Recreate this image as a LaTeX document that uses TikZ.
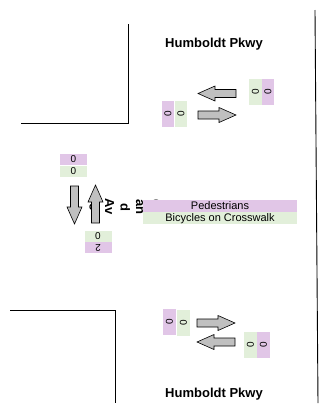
\documentclass[tikz,border=0pt]{standalone}
\usepackage{fontspec}
\setmainfont{Liberation Sans}
\usepackage{xcolor}
\definecolor{lilas}{RGB}{225,198,231}
\definecolor{verdeclaro}{RGB}{226,239,218}
\definecolor{cinzaseta}{RGB}{192,192,192}
\usepackage{tikz}
\usetikzlibrary{positioning}

\begin{document}
\begin{tikzpicture}[x=1pt, y=-1pt,
    curb/.style={draw=black, line width=0.9pt},
    pcell/.style={rectangle, fill=lilas, inner sep=0pt, font=\fontsize{10}{10}\selectfont},
    gcell/.style={rectangle, fill=verdeclaro, inner sep=0pt, font=\fontsize{10}{10}\selectfont},
    hcell/.style={minimum width=27pt, minimum height=11pt},
    vcell/.style={minimum width=12.5pt, minimum height=26pt},
    street/.style={font=\fontsize{13}{15.5}\selectfont\bfseries, inner sep=0pt},
    fatarrow/.pic={
      \draw[fill=cinzaseta, draw=black, line width=0.6pt]
        (0,-4) -- (21,-4) -- (21,-7.5) -- (38,0) -- (21,7.5) -- (21,4) -- (0,4) -- cycle;
    }
  ]
  \useasboundingbox (0,0) rectangle (320,413);

  % curbs
  \draw[curb] (128,24) -- (128,123) -- (21,123);
  \draw[curb] (10,310) -- (115,310) -- (115,403);
  \draw[curb] (315,10) -- (318,403);

  % street names
  \node[street] (hpN) at (214,44) {Humboldt Pkwy};
  \node[street] (hpS) at (214,394) {Humboldt Pkwy};
  \node[street, rotate=-90, align=center] (grand) at (125,207) {Gr\\an\\d\\Av\\e};

  % north approach (top)
  \node[gcell, vcell] (nThruG) at (255.5,91.5) {\rotatebox{90}{0}};
  \node[pcell, vcell] (nThruP) at (268,91.5) {\rotatebox{90}{0}};
  \node[pcell, vcell] (nLeftP) at (168,113.5) {\rotatebox{90}{0}};
  \node[gcell, vcell] (nLeftG) at (181,113.5) {\rotatebox{90}{0}};
  \pic[rotate=180] at (236,93.5) {fatarrow};
  \pic at (198,115) {fatarrow};

  % west approach
  \node[pcell, hcell] (wP) at (73.5,159.5) {0};
  \node[gcell, hcell] (wG) at (73.5,171.5) {0};
  \node[gcell, hcell] (eG) at (98,236.5) {0};
  \node[pcell, hcell] (eP) at (98,247.5) {\rotatebox{180}{2}};
  \pic[rotate=-90] at (74.5,186) {fatarrow};
  \pic[rotate=90] at (95.5,223) {fatarrow};

  % legend
  \node[pcell, minimum width=154pt, minimum height=12pt,
        font=\fontsize{11}{11}\selectfont] (ped) at (220,206) {Pedestrians};
  \node[gcell, minimum width=154pt, minimum height=12pt,
        font=\fontsize{11}{11}\selectfont, below=0pt of ped] (bike) {Bicycles on Crosswalk};

  % south approach (bottom)
  \node[pcell, vcell] (sLeftP) at (169.5,322) {\rotatebox{90}{0}};
  \node[gcell, vcell] (sLeftG) at (183.5,322.5) {\rotatebox{90}{0}};
  \node[gcell, vcell] (sThruG) at (250.5,345) {\rotatebox{90}{0}};
  \node[pcell, vcell] (sThruP) at (263.5,345) {\rotatebox{90}{0}};
  \pic at (197,323) {fatarrow};
  \pic[rotate=180] at (235,342) {fatarrow};

\end{tikzpicture}
\end{document}
